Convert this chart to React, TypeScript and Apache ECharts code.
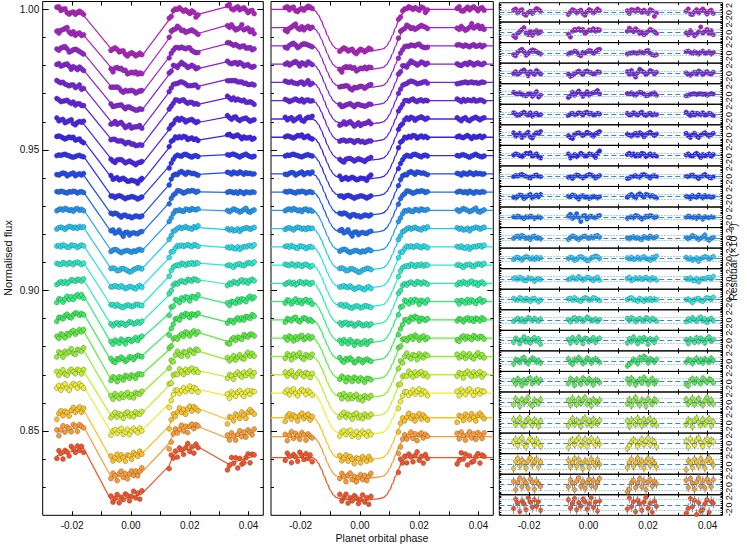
import React, { useEffect, useRef } from "react";
import * as echarts from "echarts";

// ---------------- data ----------------
// planet orbital phase of each exposure (4 HST orbits)
const phase = [
  -0.0252, -0.0245, -0.0238, -0.0231, -0.0224, -0.0217, -0.021, -0.0203, -0.0196, -0.0189, -0.0182, -0.0175, -0.0168, -0.0161,
  -0.0068, -0.0061, -0.0054, -0.0047, -0.004, -0.0033, -0.0026, -0.0019, -0.0012, -0.0005, 0.0002, 0.0009, 0.0016, 0.0023, 0.003, 0.0037,
  0.013, 0.0137, 0.0144, 0.0151, 0.0158, 0.0165, 0.0172, 0.0179, 0.0186, 0.0193, 0.02, 0.0207, 0.0214, 0.0221, 0.0228,
  0.0328, 0.0335, 0.0342, 0.0349, 0.0356, 0.0363, 0.037, 0.0377, 0.0384, 0.0391, 0.0398, 0.0405, 0.0412, 0.0419,
];
const clusterSizes = [14, 16, 15, 14];
// position of each exposure inside its orbit
const orbitPos = [
  -0.5, -0.42, -0.35, -0.27, -0.19, -0.12, -0.04, 0.04, 0.12, 0.19, 0.27, 0.35, 0.42, 0.5,
  -0.5, -0.43, -0.37, -0.3, -0.23, -0.17, -0.1, -0.03, 0.03, 0.1, 0.17, 0.23, 0.3, 0.37, 0.43, 0.5,
  -0.5, -0.43, -0.36, -0.29, -0.21, -0.14, -0.07, 0, 0.07, 0.14, 0.21, 0.29, 0.36, 0.43, 0.5,
  -0.5, -0.42, -0.35, -0.27, -0.19, -0.12, -0.04, 0.04, 0.12, 0.19, 0.27, 0.35, 0.42, 0.5,
];
// fraction of full transit depth at each exposure
const transitAtObs = [
  0, 0, 0, 0, 0, 0, 0, 0, 0, 0, 0, 0, 0, 0,
  0.952, 0.961, 0.967, 0.972, 0.978, 0.983, 0.989, 0.994, 0.997, 0.999, 1.0, 0.998, 0.995, 0.991, 0.986, 0.98,
  0.27, 0.16, 0.09, 0.03, 0.005, 0, 0, 0, 0, 0, 0, 0, 0, 0, 0,
  0, 0, 0, 0, 0, 0, 0, 0, 0, 0, 0, 0, 0, 0,
];
// smooth transit model (middle panel)
const modelPhase = [
  -0.03, -0.016, -0.015, -0.014, -0.013, -0.012, -0.011, -0.01, -0.009, -0.008, -0.007, -0.006, -0.004, -0.002, 0,
  0.002, 0.004, 0.006, 0.007, 0.008, 0.009, 0.01, 0.011, 0.012, 0.013, 0.014, 0.015, 0.016, 0.045,
];
const modelShape = [
  0, 0, 0.04, 0.13, 0.27, 0.44, 0.61, 0.76, 0.87, 0.93, 0.95, 0.962, 0.978, 0.993, 1.0,
  0.993, 0.978, 0.962, 0.95, 0.93, 0.87, 0.76, 0.61, 0.44, 0.27, 0.13, 0.04, 0, 0,
];
// per spectroscopic channel
const baseline = [
  1.0, 0.9935, 0.987, 0.9805, 0.974, 0.9675, 0.961, 0.9545, 0.948, 0.9415, 0.935, 0.9285, 0.922,
  0.9155, 0.909, 0.9025, 0.896, 0.8895, 0.883, 0.8765, 0.87, 0.8635, 0.8547, 0.848, 0.8405,
];
const depth = [
  15.0, 15.1, 15.0, 14.9, 15.0, 14.8, 14.9, 15.0, 14.8, 14.9, 14.7, 14.8, 14.9,
  14.8, 15.0, 14.9, 14.8, 14.7, 14.9, 14.8, 15.0, 14.9, 15.1, 15.0, 15.2,
]; // x1e-3
// systematics (x1e-3): orbit offsets and within-orbit slope
const sysA = [-1.0, -1.5, -1.6, -1.1, -0.8, -0.7, -1.0, -0.6, -0.1, -0.3, 0.0, 0.1, 0.3, 0.3, 0.6, 0.6, 1.2, 1.3, 1.5, 1.4, 0.8, 2.0, 1.8, 2.6, 2.0];
const sysB = [-0.8, -1.0, -1.1, -0.8, -0.6, -0.5, -0.7, -0.5, -0.2, -0.2, -0.1, 0.0, 0.1, 0.2, 0.3, 0.3, 0.6, 0.6, 0.7, 0.6, 0.4, 0.8, 0.9, 1.0, 0.7];
const sysC = [-0.7, -0.9, -0.9, -0.6, -0.4, -0.3, -0.5, -0.3, 0.0, 0.0, 0.1, 0.1, 0.2, 0.3, 0.4, 0.6, 0.8, 0.9, 1.0, 1.0, 0.9, 0.8, 2.2, 2.6, 2.6];
const sysD = [-0.1, -0.3, -0.2, -0.1, 0.1, 0.0, 0.0, 0.0, 0.1, 0.2, -0.1, -0.1, -0.2, -0.1, 0.2, 0.4, 0.3, 0.2, 0.0, -0.3, -0.2, -0.5, 0.5, 0.4, -0.8];
const sysSlope = [-2.2, -2.4, -2.0, -2.0, -2.0, -2.0, -1.5, -1.4, -0.4, -0.4, 0.0, 0.2, 0.3, 0.4, 0.6, 1.4, 2.0, 2.0, 2.2, 1.8, 1.2, 1.0, 2.2, 2.0, 2.6];
const sigma = [0.68, 0.75, 0.65, 0.65, 0.62, 0.62, 0.65, 0.65, 0.62, 0.65, 0.65, 0.7, 0.7, 0.72, 0.75, 0.78, 0.85, 0.95, 1.0, 1.1, 1.15, 1.25, 1.35, 1.45, 1.55];
const errBar = [0.45, 0.5, 0.45, 0.45, 0.45, 0.45, 0.45, 0.45, 0.45, 0.5, 0.5, 0.55, 0.55, 0.6, 0.6, 0.65, 0.75, 0.85, 0.9, 1.0, 1.05, 1.1, 1.2, 1.3, 1.45];
const colors = [
  "#b41ec0", "#a620c8", "#9620d0", "#8620d8", "#7420e0", "#6020e8", "#4a20f0", "#3820f4", "#2a30fa",
  "#1e48fa", "#1a68f6", "#1e98f8", "#1ec8f8", "#1ee4f0", "#22f0d0", "#26f0a8", "#2cf07c", "#38ee58",
  "#5cee3c", "#90f030", "#c0f02a", "#eeee30", "#fcc020", "#fc9a30", "#f45224",
];
// residuals, in units of RES_UNIT (flux)
const RES_UNIT = 1.6e-4;
const r0 = [4,6,-1,3,5,-3,-5,0,2,-2,3,7,5,2, -4,1,5,3,-1,2,4,-2,-5,1,5,3,-1,2,6,3, 3,-2,5,4,2,6,3,0,4,1,-2,5,3,-7,-1, 2,6,-3,-4,1,5,-1,3,6,2,-3,2,4,-2];
const r1 = [-6,-9,-2,1,5,8,-1,-4,2,-5,0,3,-2,1, -3,-8,2,5,4,6,3,5,-2,1,4,3,6,2,5,4, 2,7,4,1,6,3,-2,0,-4,-1,2,5,3,1,-2, -1,-4,3,-2,-6,-3,1,9,-1,2,5,-2,3,-4];
const r2 = [-3,-5,1,4,6,2,-4,-1,3,5,4,2,0,-2, -2,0,1,3,2,-3,-5,1,0,2,4,3,-1,2,5,6, -2,-1,0,1,0,-1,2,1,0,3,4,-1,-3,-4,-3, 2,3,1,-1,2,0,-2,1,3,-1,0,2,-2,1];
const r3 = [0,3,-2,1,4,6,2,-4,3,1,-2,5,2,-1, -1,-5,-3,0,2,4,1,-2,3,4,2,1,-1,0,3,2, 3,-2,5,-1,-6,1,7,4,2,-2,1,5,3,-1,2, 1,-2,-3,0,2,-1,4,2,-2,1,3,0,-1,2];
const r4 = [3,1,0,2,-1,-2,-3,0,1,-4,-1,4,-5,-2, -6,-3,3,-2,2,5,1,-4,0,4,-2,1,2,3,6,0, 1,0,2,-1,-2,1,3,2,0,-3,-2,-1,1,2,-2, -3,-2,-1,0,1,-1,0,1,-1,0,-2,-1,1,0];
const r5 = [3,1,-2,0,2,4,1,-1,3,-3,1,2,-1,0, -2,1,2,0,1,3,2,-1,3,4,1,2,-1,0,2,1, 2,-1,0,3,1,-1,2,4,0,-2,1,2,-1,1,0, 4,1,-2,3,-1,2,1,0,3,-1,0,2,1,-2];
const r6 = [4,-2,1,3,-4,-1,2,5,-3,-5,1,4,3,6, -1,-4,-6,1,3,4,2,-1,2,5,3,1,-2,2,4,6, 2,0,-2,1,3,-1,4,2,-3,1,3,5,2,-1,2, 3,-1,-4,1,3,-2,-4,0,2,4,1,-2,1,3];
const r7 = [1,3,2,0,-2,1,4,3,5,-1,1,3,-2,-4, 3,-4,-1,2,-2,1,4,2,-1,0,3,2,1,-3,4,8, 2,4,1,3,-1,2,0,4,3,-2,1,3,0,2,-1, 1,3,0,-1,2,4,1,-3,2,0,1,3,-1,2];
const r8 = [-1,1,0,2,3,1,0,-2,-3,-1,1,2,0,-1, -2,-1,-4,0,2,1,-1,-3,0,1,3,2,0,-3,-1,1, -4,-3,-1,0,1,-1,-2,2,3,1,-1,-3,0,1,-1, 0,-1,1,2,0,-2,-4,-1,1,3,0,-2,-3,-1];
const r9 = [-1,-2,1,3,2,-3,0,2,4,-2,1,3,0,4, 1,0,3,2,-1,-4,1,2,-1,0,-3,-1,1,0,-2,0, -1,2,4,1,-2,3,5,2,-1,4,3,1,2,0,-2, 1,0,-3,2,0,-1,3,1,-2,2,0,1,-1,0];
const r10 = [1,0,2,1,-1,-2,1,0,2,1,-2,0,1,-1, 2,5,-2,1,6,-1,-7,2,3,-3,1,2,0,-1,2,3, -2,0,1,-1,3,2,0,-3,-1,2,1,3,2,-1,1, 0,2,1,-1,1,-2,2,0,-3,1,0,-1,1,0];
const r11 = [-1,2,3,0,4,2,-1,1,-3,2,3,-1,1,-2, -3,1,3,2,-1,-3,0,2,3,1,-1,2,0,3,4,1, 0,-2,1,2,-1,1,-2,-3,2,1,-1,3,1,0,2, 1,-2,1,4,2,0,-3,-1,2,5,-2,-4,-1,1];
const r12 = [-2,1,2,0,-3,1,3,2,-1,1,-2,2,0,1, 0,2,1,-3,-2,2,3,1,-1,-4,-3,1,2,4,3,0, 1,-1,2,-2,0,2,-1,1,3,0,-1,-3,2,0,4, 2,-1,1,-3,-2,1,-5,0,1,3,2,-1,1,3];
const r13 = [1,2,-1,3,1,-2,-3,2,1,0,-4,-1,1,-1, -1,0,3,1,0,4,1,-2,0,3,2,-1,-3,1,3,-2, 1,3,-3,-1,2,0,2,-1,1,3,0,-2,2,1,-2, 1,-1,2,-2,-3,1,-5,-1,1,0,2,3,0,4];
const r14 = [2,0,-1,3,1,-2,2,0,-3,1,2,-1,-4,-1, 1,2,-1,3,0,-2,-3,1,3,2,-1,0,3,2,0,-2, 0,2,3,0,-1,-3,2,0,-3,1,-1,2,-2,1,0, 0,1,-2,-5,0,1,2,-2,-3,1,3,2,0,4];
const r15 = [-2,1,3,-1,2,-3,0,4,2,-1,3,1,-2,2, 1,-3,2,4,-1,3,2,-2,1,5,3,-1,0,2,-2,1, 3,-1,4,2,-3,1,3,0,-2,4,2,-1,3,1,-2, -3,2,-1,4,1,-2,3,5,-1,2,-4,1,3,-1];
const r16 = [-3,4,2,-5,1,6,-2,3,-4,2,5,-1,3,-6, 2,-4,5,1,-3,6,2,-5,4,3,-2,1,5,-3,2,4, -4,3,-2,6,1,-5,4,-1,5,2,-6,3,1,-3,4, 2,-5,3,1,-3,5,-2,4,1,-4,3,6,-1,2];
const r17 = [-5,3,1,-2,4,6,-1,-4,2,5,3,-2,1,-3, 4,-2,-5,3,1,6,2,-4,-1,5,3,-3,2,4,1,-2, -8,-5,-2,3,1,-4,6,2,8,5,-3,4,2,-1,3, -2,3,1,-4,2,5,-1,3,-3,4,2,-2,5,1];
const r18 = [2,-4,5,1,-6,3,-2,4,6,-3,1,5,-1,3, -3,5,2,-6,4,1,-4,6,3,-2,5,1,-5,3,2,-1, 4,-3,6,2,-5,1,4,-2,7,3,-4,2,5,-3,1, -4,-7,2,5,-2,4,1,-3,6,2,-1,4,3,-2];
const r19 = [-4,6,2,-7,5,-1,3,8,-3,-6,4,1,-2,5, 3,-5,7,1,-4,6,-2,4,8,-3,2,-6,5,1,-1,4, -2,5,-6,3,8,-1,-5,4,2,-7,6,1,-3,5,2, 5,-3,1,7,-4,2,6,-2,-5,3,8,-1,4,-3];
const r20 = [6,-3,4,8,-2,-5,3,7,1,-4,5,2,-6,3, -5,2,7,-3,4,1,-6,5,8,-2,3,-4,6,1,-1,4, 3,-6,5,1,-3,8,2,-5,6,-1,4,7,-2,3,-4, -3,5,2,-7,4,8,1,-4,6,-2,3,7,-5,2];
const r21 = [2,7,-4,5,9,-1,-6,3,8,4,-3,6,1,-5, -7,3,6,-2,5,9,-4,1,7,-5,3,8,2,-3,6,-1, -9,-4,2,6,3,-5,1,7,-2,4,9,-3,5,2,-6, 4,-6,8,2,-3,6,9,1,-5,4,7,-2,5,3];
const r22 = [-8,4,9,-3,6,2,-7,5,10,-2,4,8,-5,3, 6,-5,2,9,-4,7,1,-8,5,3,-6,8,2,-3,7,-1, -6,3,8,-4,2,10,-1,5,-7,4,9,-3,6,1,-5, -10,5,2,-6,8,3,-4,9,1,-7,6,10,4,-2];
const r23 = [5,-9,3,11,-4,7,2,-6,9,4,-8,6,1,-3, -4,8,2,-9,6,11,-3,5,-7,3,9,-2,7,-5,4,10, -12,-8,3,7,-5,2,10,-4,6,-9,4,8,-3,5,1, 7,-5,10,2,-8,4,11,-3,6,-6,9,3,-4,8];
const r24 = [-6,10,3,-11,7,2,-8,12,5,-4,9,-2,6,-9, 9,-5,3,11,-8,4,-2,10,6,-7,2,12,-4,5,-10,7, -7,12,-3,6,-11,8,2,-9,5,13,-6,3,-12,7,-2, -14,-6,11,-3,8,-16,4,-10,-8,2,9,-12,6,3];
const residuals = [r0, r1, r2, r3, r4, r5, r6, r7, r8, r9, r10, r11, r12, r13, r14, r15, r16, r17, r18, r19, r20, r21, r22, r23, r24];

// tick positions / labels
const xTickValues = [-0.02, -0.01, 0, 0.01, 0.02, 0.03, 0.04];
const xLabelValues = [-0.02, 0, 0.02, 0.04];
const yMinorTicks = [0.83, 0.84, 0.85, 0.86, 0.87, 0.88, 0.89, 0.9, 0.91, 0.92, 0.93, 0.94, 0.95, 0.96, 0.97, 0.98, 0.99, 1.0];
const yMajorTicks = [0.85, 0.9, 0.95, 1.0];
const resTickValues = [-2.5, -2, -1.5, -1, -0.5, 0, 0.5, 1, 1.5, 2, 2.5];
const resLabelValues = [-2, 0, 2];

// ---------------- chart ----------------
const FONT = "'Liberation Sans', Arial, Helvetica, 'DejaVu Sans', sans-serif";
const TXT = "#111";

function buildOption(): any {
  const XMIN = -0.03, XMAX = 0.045;
  const YMIN = 0.82, YMAX = 1.0028;
  const RMIN = -2.8, RMAX = 2.8;
  const top = 1.5, H = 513.8;
  const nCh = baseline.length;
  const rowH = H / nCh;

  const gridBase = { show: true, borderColor: "#000", borderWidth: 1, backgroundColor: "transparent" };
  const grid: any[] = [
    { ...gridBase, left: 42.7, top, width: 220.6, height: H },
    { ...gridBase, left: 271, top, width: 222.3, height: H },
  ];
  for (let k = 0; k < nCh; k++) grid.push({ ...gridBase, left: 499.3, top: top + k * rowH, width: 223.2, height: rowH });

  const tickStyle = { color: "#000", width: 1 };
  const noLine = { show: false, onZero: false };
  const mkX = (gi: number, pos: string, labels: boolean, len: number) => ({
    type: "value", gridIndex: gi, position: pos, min: XMIN, max: XMAX,
    axisLine: noLine, splitLine: { show: false },
    axisTick: { show: true, inside: true, length: len, customValues: xTickValues, lineStyle: tickStyle },
    axisLabel: {
      show: labels, customValues: xLabelValues, formatter: (v: number) => v.toFixed(2),
      color: TXT, fontSize: 10, fontFamily: FONT, margin: 5,
    },
  });
  const xAxis: any[] = [mkX(0, "bottom", true, 4), mkX(0, "top", false, 4), mkX(1, "bottom", true, 4), mkX(1, "top", false, 4)];
  for (let k = 0; k < nCh; k++) xAxis.push(mkX(2 + k, "bottom", k === nCh - 1, 2.5), mkX(2 + k, "top", false, 2.5));

  const mkY = (gi: number, pos: string, ticks: number[], len: number, labels: boolean) => ({
    type: "value", gridIndex: gi, position: pos, min: YMIN, max: YMAX,
    axisLine: noLine, splitLine: { show: false },
    axisTick: { show: true, inside: true, length: len, customValues: ticks, lineStyle: tickStyle },
    axisLabel: labels
      ? { show: true, customValues: yMajorTicks, formatter: (v: number) => v.toFixed(2), color: TXT, fontSize: 10, fontFamily: FONT, margin: 3.5 }
      : { show: false },
  });
  const yAxis: any[] = [
    mkY(0, "left", yMinorTicks, 3, true), mkY(0, "left", yMajorTicks, 6, false),
    mkY(0, "right", yMinorTicks, 3, false), mkY(0, "right", yMajorTicks, 6, false),
    mkY(1, "left", yMinorTicks, 3, false), mkY(1, "left", yMajorTicks, 6, false),
    mkY(1, "right", yMinorTicks, 3, false), mkY(1, "right", yMajorTicks, 6, false),
  ];
  for (let k = 0; k < nCh; k++) {
    yAxis.push({
      type: "value", gridIndex: 2 + k, position: "left", min: RMIN, max: RMAX,
      axisLine: noLine, splitLine: { show: false },
      axisTick: { show: true, inside: true, length: 2, customValues: resTickValues, lineStyle: tickStyle },
      axisLabel: { show: false },
    });
    yAxis.push({
      type: "value", gridIndex: 2 + k, position: "right", min: RMIN, max: RMAX,
      axisLine: noLine, splitLine: { show: false },
      axisTick: { show: true, inside: true, length: 2, customValues: resTickValues, lineStyle: tickStyle },
      axisLabel: {
        show: true, customValues: resLabelValues, formatter: (v: number) => String(Math.round(v)),
        rotate: 90, color: TXT, fontSize: 9, fontFamily: FONT, margin: 2,
      },
    });
  }

  const orbitOf: number[] = [];
  clusterSizes.forEach((n, k) => { for (let i = 0; i < n; i++) orbitOf.push(k); });
  const sysOffsets = [sysA, sysB, sysC, sysD];

  const errRender = (params: any, api: any) => {
    const x = api.value(0), y = api.value(1), e = api.value(2);
    const p1 = api.coord([x, y - e]);
    const p2 = api.coord([x, y + e]);
    return { type: "line", shape: { x1: p1[0], y1: p1[1], x2: p2[0], y2: p2[1] }, style: { stroke: "#8c8c8c", lineWidth: 1 } };
  };

  const series: any[] = [];
  for (let c = 0; c < nCh; c++) {
    const col = colors[c];
    const res = residuals[c].map((v) => v * RES_UNIT); // flux
    const modelObs = phase.map((_, i) => baseline[c] - depth[c] * 1e-3 * transitAtObs[i]);
    const sys = phase.map((_, i) => (sysOffsets[orbitOf[i]][c] + sysSlope[c] * orbitPos[i]) * 1e-3);
    const leftModel = phase.map((p, i) => [p, modelObs[i] + sys[i]]);
    const leftData = phase.map((p, i) => [p, modelObs[i] + sys[i] + res[i]]);
    const midData = phase.map((p, i) => [p, modelObs[i] + res[i]]);
    const midModel = modelPhase.map((p, j) => [p, baseline[c] - depth[c] * 1e-3 * modelShape[j]]);
    const resData = phase.map((p, i) => [p, res[i] * 1e3]);
    const errData = phase.map((p, i) => [p, res[i] * 1e3, errBar[c]]);
    const pt = { color: col, borderColor: "#444", borderWidth: 0.35, opacity: 1 };

    series.push(
      { type: "line", xAxisIndex: 0, yAxisIndex: 0, data: leftModel, symbol: "none", lineStyle: { color: col, width: 1.2 }, z: 2, silent: true },
      { type: "scatter", xAxisIndex: 0, yAxisIndex: 0, data: leftData, symbolSize: 5, itemStyle: pt, z: 3, silent: true },
      { type: "line", xAxisIndex: 2, yAxisIndex: 4, data: midModel, smooth: 0.35, smoothMonotone: "x", symbol: "none", lineStyle: { color: col, width: 1.3 }, z: 2, silent: true },
      { type: "scatter", xAxisIndex: 2, yAxisIndex: 4, data: midData, symbolSize: 5, itemStyle: pt, z: 3, silent: true },
      {
        type: "custom", xAxisIndex: 4 + 2 * c, yAxisIndex: 8 + 2 * c, data: errData, renderItem: errRender,
        encode: { x: 0, y: 1 }, clip: true, z: 2, silent: true,
        markLine: {
          silent: true, symbol: ["none", "none"], label: { show: false }, animation: false,
          data: [
            { yAxis: 0, lineStyle: { color: "#3a86d0", type: [5, 3], width: 1 } },
            { yAxis: sigma[c], lineStyle: { color: "#8cbfe9", type: [1.5, 1.5], width: 1 } },
            { yAxis: -sigma[c], lineStyle: { color: "#8cbfe9", type: [1.5, 1.5], width: 1 } },
          ],
        },
      },
      { type: "scatter", xAxisIndex: 4 + 2 * c, yAxisIndex: 8 + 2 * c, data: resData, symbolSize: 4.6, itemStyle: pt, z: 3, silent: true },
    );
  }

  const graphic = [
    { type: "text", x: 7.5, y: 258, rotation: Math.PI / 2, style: { text: "Normalised flux", fontSize: 11, fontFamily: FONT, fill: TXT, align: "center", verticalAlign: "middle" } },
    { type: "text", x: 382, y: 537.5, style: { text: "Planet orbital phase", fontSize: 10.5, fontFamily: FONT, fill: TXT, align: "center", verticalAlign: "middle" } },
    { type: "text", x: 733, y: 262, rotation: Math.PI / 2, style: { text: "Residual (\u00d710\u207b\u00b3)", fontSize: 10.5, fontFamily: FONT, fill: TXT, align: "center", verticalAlign: "middle" } },
  ];

  return { animation: false, backgroundColor: "#fff", grid, xAxis, yAxis, series, graphic };
}

export default function App() {
  const ref = useRef<HTMLDivElement>(null);
  useEffect(() => {
    if (!ref.current) return;
    const chart = echarts.init(ref.current, undefined, { renderer: "svg" });
    chart.setOption(buildOption());
    return () => chart.dispose();
  }, []);
  return <div ref={ref} style={{ position: "fixed", left: 0, top: 0, width: 747, height: 544 }} />;
}
